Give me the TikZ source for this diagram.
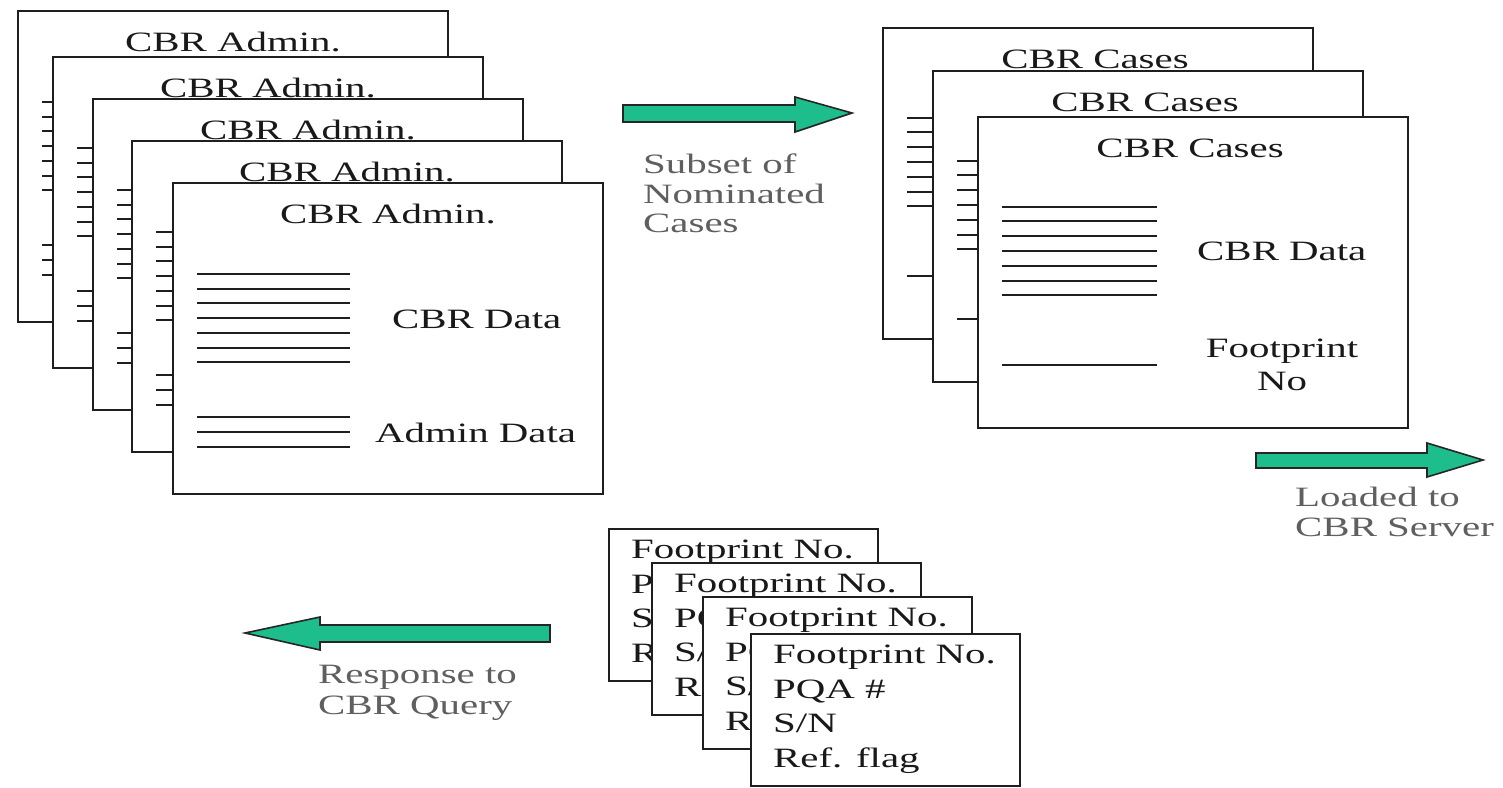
\documentclass[tikz,border=0pt]{standalone}
\usepackage{fontspec}
\setmainfont{Liberation Serif}[FakeStretch=1.46]
\definecolor{arrowgreen}{RGB}{30,190,140}
\definecolor{captiongray}{RGB}{95,95,95}
\definecolor{inkline}{RGB}{30,30,30}
\tikzset{
  pagebox/.style={draw=inkline, line width=2.5pt, fill=white},
  dataline/.style={draw=inkline, line width=2pt},
  pagetitle/.style={inner sep=0pt, anchor=base, font=\fontsize{28}{34}\selectfont, text=black!90},
  lbltext/.style={inner sep=0pt, anchor=base west, font=\fontsize{28}{34}\selectfont, text=black!90},
  lblcenter/.style={inner sep=0pt, anchor=base, font=\fontsize{28}{34}\selectfont, text=black!90},
  captext/.style={inner sep=0pt, anchor=base west, font=\fontsize{28}{34}\selectfont, text=captiongray},
  fatarrow/.style={draw=black!85, line width=1.6pt, fill=arrowgreen, line join=miter},
  adminpage/.pic={
    \draw[pagebox] (0,0) rectangle (430,311);
    \node[pagetitle] (-title) at (215,40) {CBR Admin.};
    \foreach \yy in {91,106,120,135,150,165,179,234,249,264} {\draw[dataline] (24,\yy) -- (177,\yy);}
    \node[lbltext] (-data) at (219,145) {CBR Data};
    \node[lbltext] (-admin) at (202,259) {Admin Data};
  },
  casepage/.pic={
    \draw[pagebox] (0,0) rectangle (430,311);
    \node[pagetitle] (-title) at (212,40) {CBR Cases};
    \foreach \yy in {90,104,119,134,149,164,178,248} {\draw[dataline] (24,\yy) -- (179,\yy);}
    \node[lbltext] (-data) at (219,143) {CBR Data};
    \node[lblcenter] (-fp) at (304,240) {Footprint};
    \node[lblcenter] (-no) at (304,273) {No};
  },
  footcard/.pic={
    \draw[pagebox] (0,0) rectangle (269,152);
    \node[lbltext] (-fp) at (22,29) {Footprint No.};
    \node[lbltext] (-pqa) at (22,64) {PQA \#};
    \node[lbltext] (-sn) at (22,98) {S/N};
    \node[lbltext] (-ref) at (22,133) {Ref. flag};
  }
}
\begin{document}
\begin{tikzpicture}[x=1pt,y=-1pt]
\fill[white] (0,0) rectangle (1503,787);
\useasboundingbox (0,0) rectangle (1503,787);

% left stack of CBR Admin pages
\pic (a1) at (18,11) {adminpage};
\pic (a2) at (53,57) {adminpage};
\pic (a3) at (93,99) {adminpage};
\pic (a4) at (132,141) {adminpage};
\pic (a5) at (173,183) {adminpage};

% right stack of CBR Cases pages
\pic (c1) at (883,28) {casepage};
\pic (c2) at (933,71) {casepage};
\pic (c3) at (978,117) {casepage};

% bottom stack of footprint cards
\pic (f1) at (609,529) {footcard};
\pic (f2) at (652,563) {footcard};
\pic (f3) at (703,597) {footcard};
\pic (f4) at (751,634) {footcard};

% arrows
\draw[fatarrow] (623,105) -- (795,105) -- (795,97) -- (852,113) -- (795,132) -- (795,122) -- (623,122) -- cycle;
\draw[fatarrow] (1256,453) -- (1427,453) -- (1427,443) -- (1483,460) -- (1427,477) -- (1427,468) -- (1256,468) -- cycle;
\draw[fatarrow] (550,625) -- (320,625) -- (320,617) -- (245,633) -- (320,650) -- (320,642) -- (550,642) -- cycle;

% captions
\node[captext] (cap1a) at (643,173) {Subset of};
\node[captext] (cap1b) at (643,203) {Nominated};
\node[captext] (cap1c) at (643,232) {Cases};
\node[captext] (cap2a) at (1295,506) {Loaded to};
\node[captext] (cap2b) at (1295,536) {CBR Server};
\node[captext] (cap3a) at (318,683) {Response to};
\node[captext] (cap3b) at (318,714) {CBR Query};
\end{tikzpicture}
\end{document}
